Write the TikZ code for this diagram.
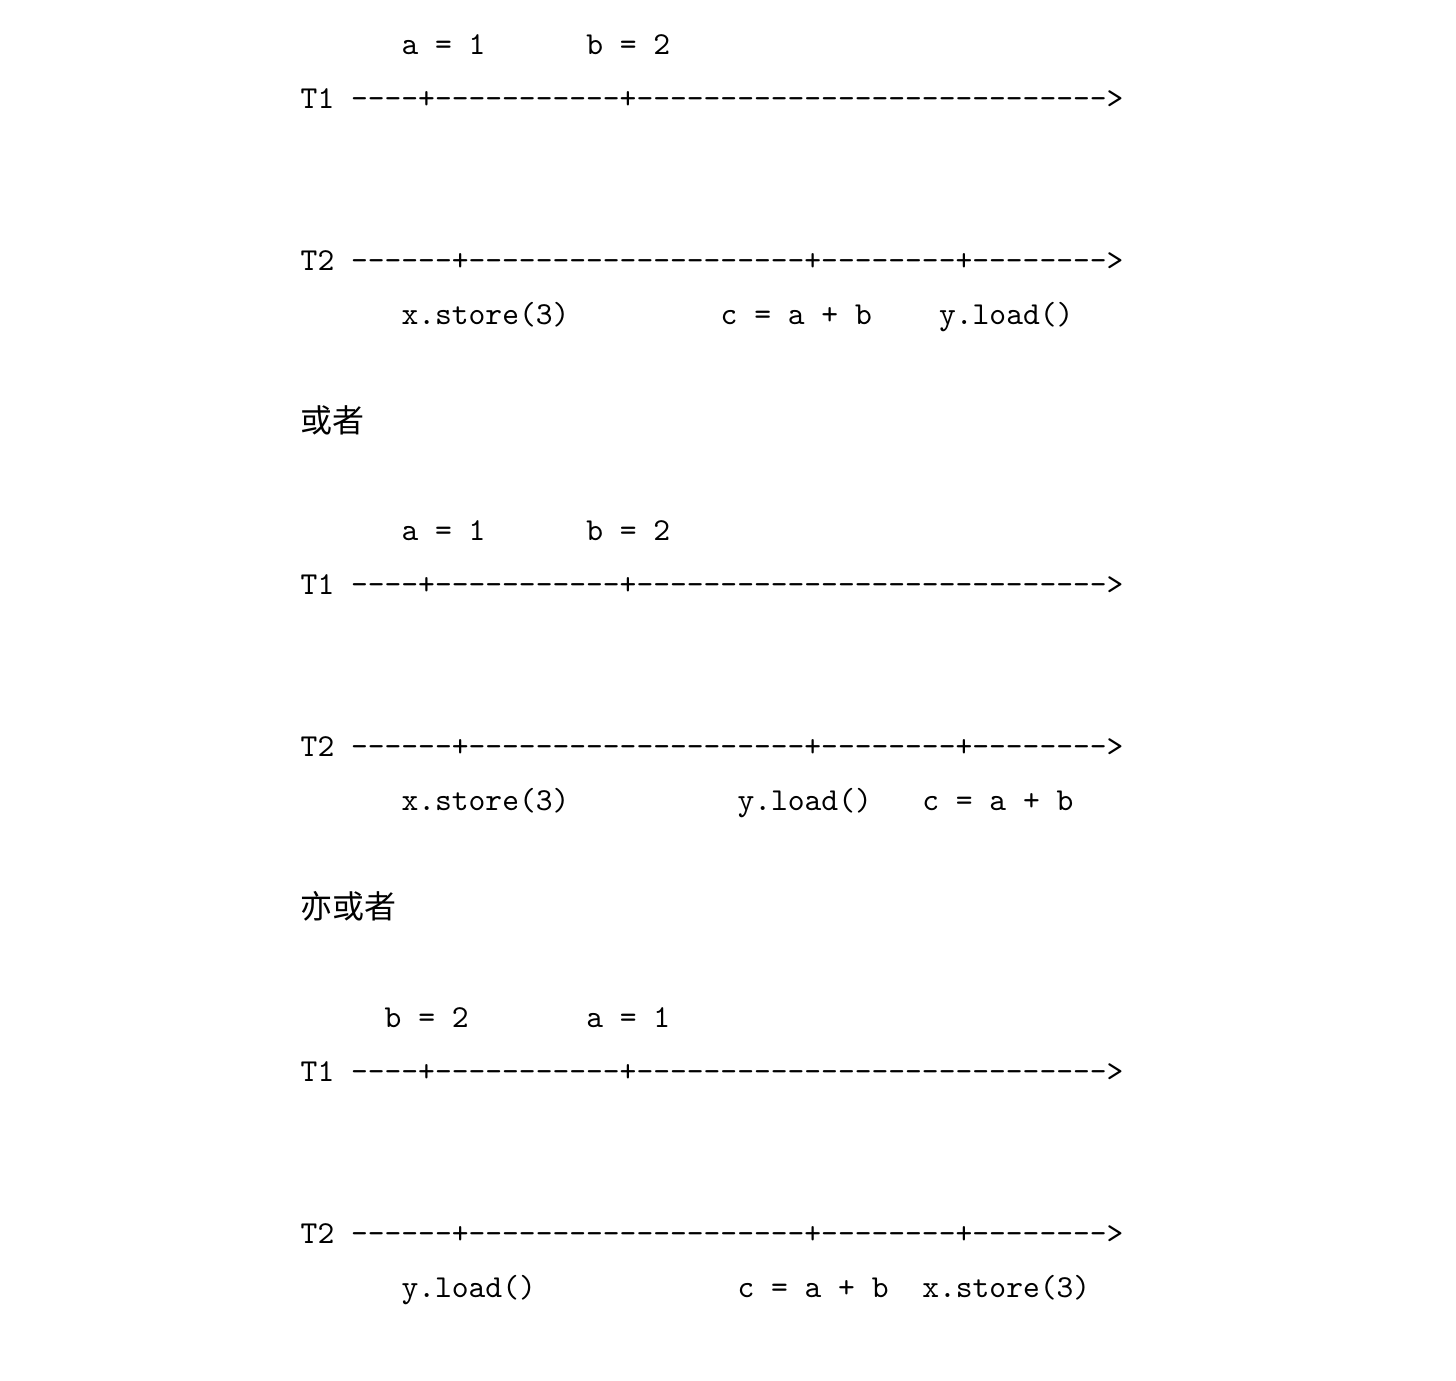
\documentclass[tikz,border=0pt]{standalone}
\usepackage{fontspec}
\setmonofont{lmmono10-regular.otf}
\newfontfamily\cjk{Noto Sans CJK SC}
\tikzset{
  code/.style={font=\ttfamily\fontsize{9.1}{11}\selectfont,inner sep=0,anchor=base west},
  note/.style={font=\cjk\fontsize{9.1}{11}\selectfont,inner sep=0,anchor=base west}
}
\begin{document}
\begin{tikzpicture}
   \fill[white] (0,0) rectangle (14.56,13.80);
   \useasboundingbox (0,0) rectangle (14.56,13.80);
   % first order
   \node[code] (a1) at (4.008,13.25) {a = 1};
   \node[code] (b1) at (5.856,13.25) {b = 2};
   \node[code] (ta1) at (3,12.71) {T1 ----+-----------+---------------------------->};
   \node[code] (tb1) at (3,11.09) {T2 ------+--------------------+--------+-------->};
   \node[code] (xs1) at (4.008,10.55) {x.store(3)};
   \node[code] (c1) at (7.2,10.55) {c = a + b};
   \node[code] (yl1) at (9.384,10.55) {y.load()};
   \node[note] (or1) at (3,9.47) {或者};
   % second order
   \node[code] (a2) at (4.008,8.39) {a = 1};
   \node[code] (b2) at (5.856,8.39) {b = 2};
   \node[code] (ta2) at (3,7.85) {T1 ----+-----------+---------------------------->};
   \node[code] (tb2) at (3,6.23) {T2 ------+--------------------+--------+-------->};
   \node[code] (xs2) at (4.008,5.69) {x.store(3)};
   \node[code] (yl2) at (7.368,5.69) {y.load()};
   \node[code] (c2) at (9.216,5.69) {c = a + b};
   \node[note] (or2) at (3,4.61) {亦或者};
   % third order
   \node[code] (b3) at (3.84,3.53) {b = 2};
   \node[code] (a3) at (5.856,3.53) {a = 1};
   \node[code] (ta3) at (3,2.99) {T1 ----+-----------+---------------------------->};
   \node[code] (tb3) at (3,1.37) {T2 ------+--------------------+--------+-------->};
   \node[code] (yl3) at (4.008,0.83) {y.load()};
   \node[code] (c3) at (7.368,0.83) {c = a + b};
   \node[code] (xs3) at (9.216,0.83) {x.store(3)};
\end{tikzpicture}
\end{document}
